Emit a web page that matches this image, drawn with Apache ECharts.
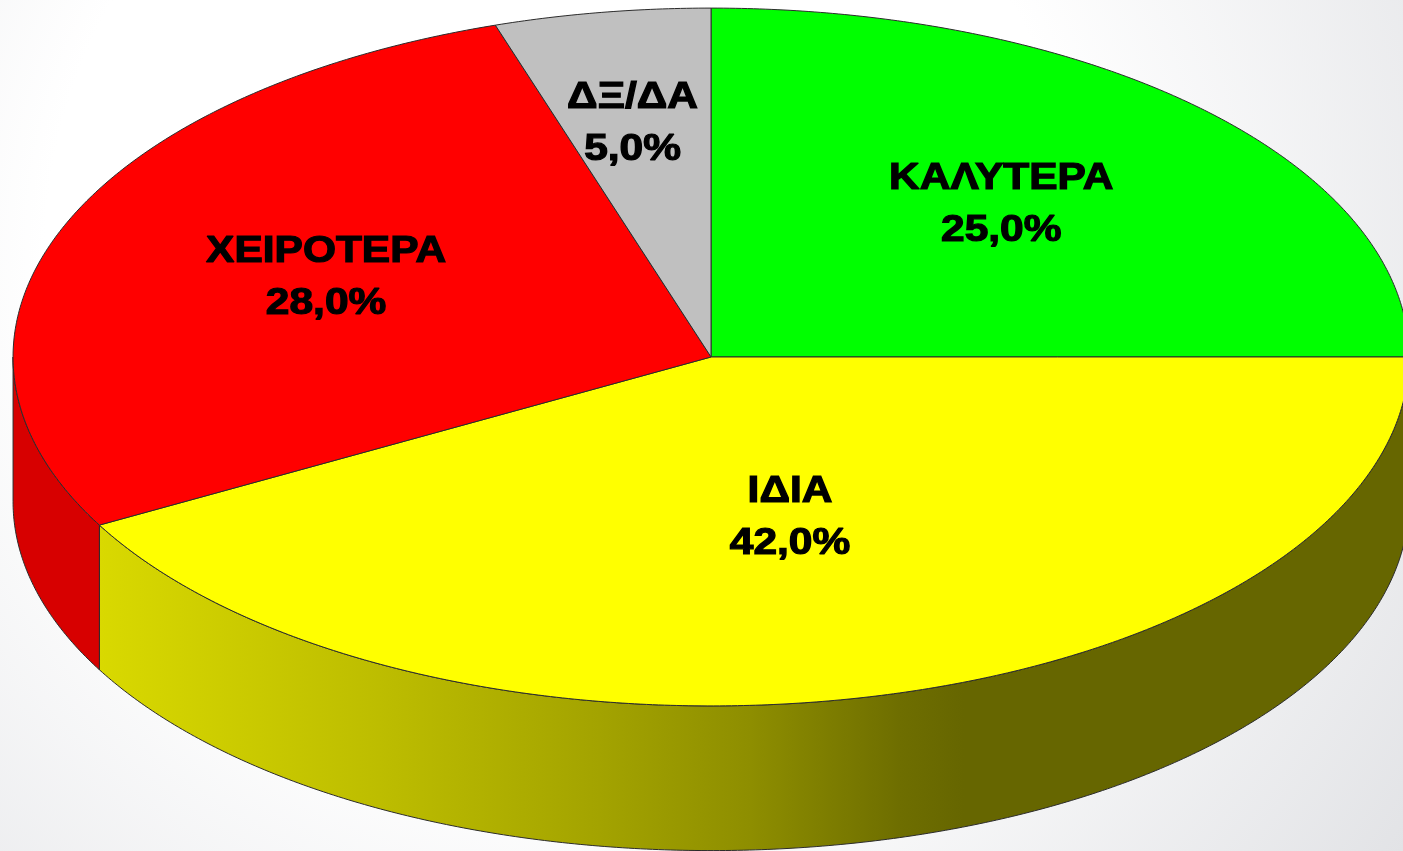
<!DOCTYPE html>
<html>
<head>
<meta charset="utf-8">
<script src="https://cdn.jsdelivr.net/npm/echarts@6/dist/echarts.min.js"></script>
<style>
  html, body { margin: 0; padding: 0; }
  body { background: radial-gradient(circle farthest-corner at 40% 30%, #ffffff 50%, #e2e3e6 100%); }
  #chart { width: 1403px; height: 851px; }
</style>
</head>
<body>
<div id="chart"></div>
<script>
// data
var categories = ['ΚΑΛΥΤΕΡΑ', 'ΙΔΙΑ', 'ΧΕΙΡΟΤΕΡΑ', 'ΔΞ/ΔΑ'];
var values = [25.0, 42.0, 28.0, 5.0];

var topColors = ['#00ff00', '#ffff00', '#ff0000', '#c0c0c0'];
var sideColors = [
  '#00c000',
  new echarts.graphic.LinearGradient(0, 0, 1, 0, [
    { offset: 0, color: '#d9d900' },
    { offset: 0.214, color: '#bdbd00' },
    { offset: 0.382, color: '#a3a300' },
    { offset: 0.497, color: '#8e8e00' },
    { offset: 0.611, color: '#6e6e00' },
    { offset: 0.66, color: '#666600' },
    { offset: 1, color: '#666600' }
  ]),
  '#d70000',
  '#999999'
];

var total = values.reduce(function (s, v) { return s + v; }, 0);
var startAngles = [];
(function () {
  var acc = 0;
  values.forEach(function (v) {
    startAngles.push(acc / total * Math.PI * 2);
    acc += v;
  });
})();

function fmt(v) {
  return v.toFixed(1).replace('.', ',') + '%';
}

// ellipse layout from chart size
function geom(api) {
  var w = api.getWidth(), h = api.getHeight();
  return {
    cx: w * 0.5068,
    cy: h * 0.4195,
    rx: w * 0.4975,
    ry: h * 0.41,
    depth: h * 0.17
  };
}

// angle measured clockwise from 12 o'clock
function pt(g, a, dy) {
  return [g.cx + g.rx * Math.sin(a), g.cy - g.ry * Math.cos(a) + dy];
}

function arc(g, a0, a1, dy) {
  var pts = [];
  var n = Math.max(2, Math.ceil(Math.abs(a1 - a0) / (Math.PI / 360)));
  for (var k = 0; k <= n; k++) {
    pts.push(pt(g, a0 + (a1 - a0) * k / n, dy));
  }
  return pts;
}

function renderSide(params, api) {
  var i = params.dataIndex;
  var g = geom(api);
  var a0 = startAngles[i];
  var a1 = a0 + values[i] / total * Math.PI * 2;
  // only the front half (3 o'clock .. 9 o'clock) shows a wall
  var s = Math.max(a0, Math.PI / 2);
  var e = Math.min(a1, Math.PI * 1.5);
  if (e <= s) return { type: 'group', children: [] };
  var pts = arc(g, s, e, 0).concat(arc(g, e, s, g.depth));
  return {
    type: 'polygon',
    shape: { points: pts },
    style: { fill: sideColors[i], stroke: '#2b2b2b', lineWidth: 1 }
  };
}

function renderTop(params, api) {
  var i = params.dataIndex;
  var g = geom(api);
  var a0 = startAngles[i];
  var a1 = a0 + values[i] / total * Math.PI * 2;
  var pts = [[g.cx, g.cy]].concat(arc(g, a0, a1, 0));
  var mid = (a0 + a1) / 2, alpha = a1 - a0;
  // label at the sector centroid
  var d = 4 * Math.sin(alpha / 2) / (3 * alpha);
  var lp = pt({ cx: g.cx - 6, cy: g.cy, rx: g.rx * d, ry: g.ry * d }, mid, -4);
  return {
    type: 'group',
    children: [
      {
        type: 'polygon',
        shape: { points: pts },
        style: { fill: topColors[i], stroke: '#2b2b2b', lineWidth: 1 }
      },
      {
        type: 'text',
        x: lp[0],
        y: lp[1],
        scaleX: 1.18,
        style: {
          text: categories[i] + '\n' + fmt(values[i]),
          fill: '#000',
          stroke: '#000',
          lineWidth: 1.2,
          font: 'bold 36px "Liberation Sans", Arial, sans-serif',
          align: 'center',
          verticalAlign: 'middle',
          textAlign: 'center',
          textVerticalAlign: 'middle',
          lineHeight: 52
        }
      }
    ]
  };
}

var myChart = echarts.init(document.getElementById('chart'));
var seriesData = values.map(function (v, i) { return { name: categories[i], value: [v] }; });
var option = {
  animation: false,
  series: [
    {
      type: 'custom',
      coordinateSystem: 'none',
      z: 1,
      silent: true,
      data: seriesData,
      renderItem: renderSide
    },
    {
      type: 'custom',
      coordinateSystem: 'none',
      z: 2,
      silent: true,
      data: seriesData,
      renderItem: renderTop
    }
  ]
};
myChart.setOption(option);
window.addEventListener('resize', function () {
  myChart.resize();
});
</script>
</body>
</html>
